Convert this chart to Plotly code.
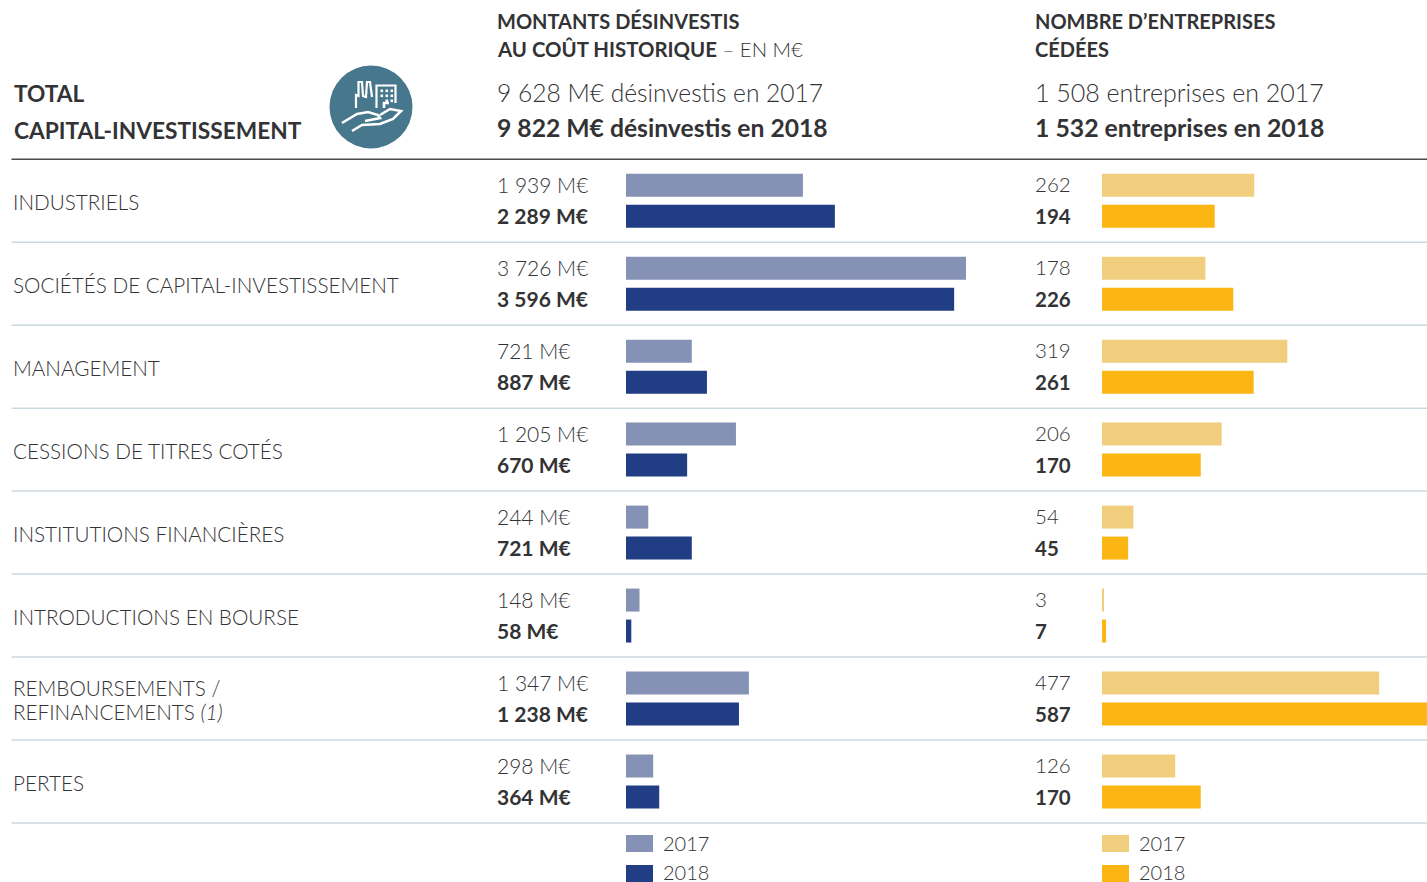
import plotly.graph_objects as go

W, H = 1427, 882
FONT = "Lato"
TXT = "#333335"
categories = ["INDUSTRIELS", "SOCIÉTÉS DE CAPITAL-INVESTISSEMENT", "MANAGEMENT",
              "CESSIONS DE TITRES COTÉS", "INSTITUTIONS FINANCIÈRES",
              "INTRODUCTIONS EN BOURSE", "REMBOURSEMENTS /<br>REFINANCEMENTS <i>(1)</i>", "PERTES"]
amount_2017 = [1939, 3726, 721, 1205, 244, 148, 1347, 298]
amount_2018 = [2289, 3596, 887, 670, 721, 58, 1238, 364]
count_2017 = [262, 178, 319, 206, 54, 3, 477, 126]
count_2018 = [194, 226, 261, 170, 45, 7, 587, 170]
amount_labels_2017 = ["1 939 M€", "3 726 M€", "721 M€", "1 205 M€", "244 M€", "148 M€", "1 347 M€", "298 M€"]
amount_labels_2018 = ["2 289 M€", "3 596 M€", "887 M€", "670 M€", "721 M€", "58 M€", "1 238 M€", "364 M€"]
COLORS = dict(a17="#8592b5", a18="#213d83", c17="#f1cd7e", c18="#fcb614")

TOP, BOTTOM = 159.2, 823.0
ROW = (BOTTOM - TOP) / 8

def px(x): return x / W
def py(y): return 1 - y / H

fig = go.Figure()
ids = list(range(len(categories)))
for name, vals, col, xa, ya in [
    ("2017", amount_2017, COLORS["a17"], "x", "y"),
    ("2018", amount_2018, COLORS["a18"], "x", "y"),
    ("2017", count_2017, COLORS["c17"], "x2", "y2"),
    ("2018", count_2018, COLORS["c18"], "x2", "y2"),
]:
    fig.add_trace(go.Bar(y=ids, x=vals, name=name, orientation="h", marker=dict(color=col, line_width=0),
                         xaxis=xa, yaxis=ya, showlegend=False))

ann = []
def text(x, y, s, size=21, color=TXT, weight=300, xref="paper", yref="paper"):
    ann.append(dict(x=x, y=y, text=s, xref=xref, yref=yref, xanchor="left", yanchor="middle", showarrow=False,
                    align="left", borderpad=0, borderwidth=0,
                    font=dict(family=FONT, size=size, color=color, weight=weight)))

OFF = 15.5 / ROW
for i, c in enumerate(categories):
    parts = c.split("<br>")
    if len(parts) == 1:
        text(px(13), i + 1.6 / ROW, c, size=20.7, yref="y")
    else:
        text(px(13), i - 10.5 / ROW, parts[0], size=20.7, yref="y")
        text(px(13), i + 13.5 / ROW, parts[1], size=20.7, yref="y")
    text(px(497), i - OFF - 0.8 / ROW, amount_labels_2017[i], size=21, yref="y")
    text(px(497), i + OFF - 0.5 / ROW, f"<b>{amount_labels_2018[i]}</b>", size=21, yref="y")
    text(px(1035), i - OFF - 0.8 / ROW, str(count_2017[i]), size=20.5, yref="y")
    text(px(1035), i + OFF - 0.5 / ROW, f"<b>{count_2018[i]}</b>", size=20.5, yref="y")

text(px(13.5), py(94), "<b>TOTAL</b>", size=22.7)
text(px(13.5), py(130), "<b>CAPITAL-INVESTISSEMENT</b>", size=22.7)
text(px(497), py(21), "<b>MONTANTS DÉSINVESTIS</b>", size=20)
text(px(497), py(49), "<b>AU COÛT HISTORIQUE</b> – EN M€", size=20.4)
text(px(497), py(92), "9 628 M€ désinvestis en 2017", size=24.6)
text(px(497), py(127.5), "<b>9 822 M€ désinvestis en 2018</b>", size=24.7)
text(px(1035), py(21), "<b>NOMBRE D’ENTREPRISES</b>", size=20)
text(px(1035), py(49), "<b>CÉDÉES</b>", size=20)
text(px(1035), py(92), "1 508 entreprises en 2017", size=25)
text(px(1035), py(127.5), "<b>1 532 entreprises en 2018</b>", size=24.8)
for x0 in (626, 1102):
    text(px(x0 + 36.5), py(843), "2017", size=20)
    text(px(x0 + 36.5), py(871.5), "2018", size=20)

shapes = []
def rect(x0, y0, x1, y1, col):
    shapes.append(dict(type="rect", xref="paper", yref="paper", x0=px(x0), x1=px(x1), y0=py(y0), y1=py(y1),
                       fillcolor=col, line_width=0, layer="above"))
def hline(y, col, w):
    shapes.append(dict(type="line", xref="paper", yref="paper", x0=px(11.5), x1=1, y0=py(y), y1=py(y),
                       line=dict(color=col, width=w), layer="below"))
hline(TOP, "#4a4a4c", 1.5)
for k in range(1, 9):
    hline(TOP + ROW * k, "#cbd9e1", 1.5)
for x0, c1, c2 in [(626, COLORS["a17"], COLORS["a18"]), (1102, COLORS["c17"], COLORS["c18"])]:
    rect(x0, 835, x0 + 27, 852, c1)
    rect(x0, 865, x0 + 27, 882, c2)

# icon
shapes.append(dict(type="circle", xref="paper", yref="paper", x0=px(329.5), x1=px(412.5), y0=py(148.5), y1=py(65.5),
                   fillcolor="#46778c", line_width=0, layer="above"))
def path(points, w=2.2):
    d = "M" + " L".join(f"{px(x):.5f},{py(y):.5f}" for x, y in points)
    shapes.append(dict(type="path", path=d, xref="paper", yref="paper", line=dict(color="white", width=w), layer="above"))
path([(356, 108), (356, 95), (358.5, 96), (358.5, 82), (362, 82), (363, 96), (366, 97), (367, 82), (370, 82), (372, 97)])
path([(376.5, 108), (376.5, 85.5), (395.5, 85.5), (395.5, 103)])
path([(384, 108), (384, 103), (389, 103)], w=2.6)
for yy in (89.5, 94.5, 99.5):
    for xx in (380.5, 385.5, 390.5):
        if not (yy == 99.5 and xx == 380.5):
            rect(xx, yy, xx + 2.6, yy + 2.6, "white")
path([(342, 123), (357, 114), (368, 112), (378, 115), (380, 118), (365, 121)], w=2.6)
path([(380, 115), (390, 109), (401, 111), (393, 119), (380, 124), (362, 125), (352, 131)], w=2.6)

base = dict(showgrid=False, zeroline=False, showticklabels=False, ticks="", showline=False, fixedrange=True)
y_dom = [1 - BOTTOM / H, 1 - TOP / H]
LEFT_PX = 0.09125
RIGHT_PX = 0.581
fig.update_layout(
    width=W, height=H, margin=dict(l=0, r=0, t=0, b=0, pad=0), paper_bgcolor="white", plot_bgcolor="rgba(0,0,0,0)",
    barmode="group", bargap=21 / 83, bargroupgap=8 / 31, showlegend=False,
    xaxis=dict(base, domain=[626 / W, 1000 / W], range=[0, 374 / LEFT_PX], anchor="y"),
    xaxis2=dict(base, domain=[1102 / W, 1], range=[0, 325 / RIGHT_PX], anchor="y2"),
    yaxis=dict(base, domain=y_dom, range=[7.5, -0.5], anchor="x"),
    yaxis2=dict(base, domain=y_dom, range=[7.5, -0.5], anchor="x2"),
    annotations=ann, shapes=shapes, font=dict(family=FONT),
)
fig.write_html("out.html", config=dict(displayModeBar=False),
               post_script="document.body.style.margin='0';document.body.style.overflow='hidden';")
